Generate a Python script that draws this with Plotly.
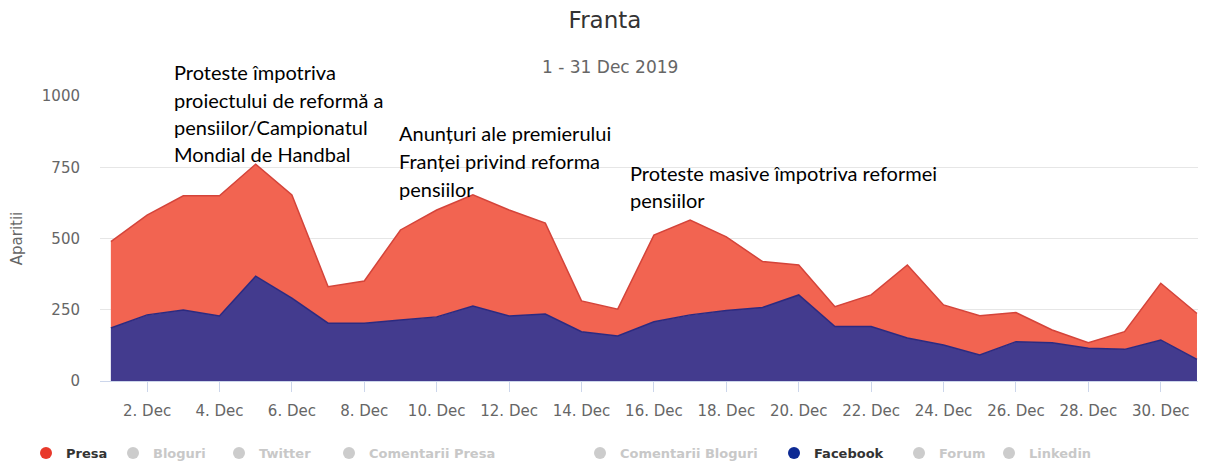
import plotly.graph_objects as go
import pandas as pd

# daily mentions, Franta, December 2019
days = pd.date_range("2019-12-01", "2019-12-31", freq="D")
facebook = [186, 232, 249, 228, 368, 291, 203, 203, 214, 225, 263, 228, 235, 173, 158, 208,
            232, 247, 258, 302, 191, 191, 151, 126, 91, 138, 134, 115, 111, 144, 76]
presa = [303, 350, 401, 422, 393, 362, 128, 148, 316, 375, 390, 372, 319, 108, 94, 304,
         333, 259, 161, 105, 70, 111, 256, 141, 138, 102, 45, 19, 62, 199, 161]

legend_names = ["Presa", "Bloguri", "Twitter", "Comentarii Presa", "Comentarii Bloguri",
                "Facebook", "Forum", "Linkedin"]
legend_colors = {"Presa": "#E8392B", "Facebook": "#0D2A94"}
# x of each legend dot on the page
legend_dots = [45, 132, 238, 348, 599, 793, 918, 1008]

events = [
    (172, [("Proteste împotriva", 72), ("proiectului de reformă a", 99.5),
           ("pensiilor/Campionatul", 127), ("Mondial de Handbal", 154)]),
    (397, [("Anunțuri ale premierului", 133), ("Franței privind reforma", 161),
           ("pensiilor", 189)]),
    (628, [("Proteste masive împotriva reformei", 173), ("pensiilor", 200)]),
]

# page has an 8px body margin, so the figure is a bit smaller than the window
W, H = 1198, 457
L, R, T, B = 92, 6, 88, 84

def px_x(x):
    # page pixel -> paper x
    return (x - 8 - L) / (W - L - R)

def px_y(y):
    # page pixel -> paper y
    return (H - B - (y - 8)) / (H - T - B)

fig = go.Figure()

# stacked areas: facebook at the bottom, presa on top
fig.add_trace(go.Scatter(x=days, y=facebook, stackgroup="s", mode="lines",
                         line=dict(color="#2C2A80", width=1.5), fillcolor="#433B8E",
                         name="Facebook", legendgroup="Facebook", showlegend=False))
fig.add_trace(go.Scatter(x=days, y=presa, stackgroup="s", mode="lines",
                         line=dict(color="#D4443A", width=1.5), fillcolor="#F26451",
                         name="Presa", legendgroup="Presa", showlegend=False))

# one small legend per entry so each sits where the original puts it
legends = {}
for i, name in enumerate(legend_names):
    col = legend_colors.get(name)
    if col:
        label = "<b>" + name + "</b>"
    else:
        col = "#cccccc"
        label = "<span style='color:#c8c8c8'><b>" + name + "</b></span>"
    key = "legend" if i == 0 else "legend%d" % (i + 1)
    fig.add_trace(go.Scatter(x=[None], y=[None], mode="markers",
                             marker=dict(size=12, color=col), name=label,
                             legendgroup=name, legend=key))
    legends[key] = dict(orientation="h", x=px_x(legend_dots[i] - 19), xanchor="left",
                        y=px_y(453), yanchor="middle", bgcolor="rgba(0,0,0,0)",
                        font=dict(family="DejaVu Sans", size=13, color="#333333"),
                        itemclick=False, itemdoubleclick=False)

for x0, lines in events:
    for text, y0 in lines:
        fig.add_annotation(text=text, xref="paper", yref="paper", x=px_x(x0), y=px_y(y0),
                           xanchor="left", yanchor="middle", showarrow=False,
                           font=dict(family="Lato", size=20, color="#000000"))

fig.add_annotation(text="1 - 31 Dec 2019", xref="paper", yref="paper",
                   x=px_x(610), y=px_y(67), xanchor="center", yanchor="middle",
                   showarrow=False, font=dict(family="DejaVu Sans", size=17, color="#666666"))

fig.update_layout(
    width=W, height=H,
    margin=dict(l=L, r=R, t=T, b=B, autoexpand=False),
    paper_bgcolor="white", plot_bgcolor="white",
    font=dict(family="DejaVu Sans", color="#666666"),
    title=dict(text="Franta", x=(605 - 8) / W, xref="container", xanchor="center",
               y=1 - (20 - 8) / H, yanchor="middle",
               font=dict(family="DejaVu Sans", size=23, color="#333333")),
    hovermode="x unified",
    **legends,
)
fig.update_xaxes(
    type="date",
    range=["2019-11-30 16:48", "2019-12-31 02:00"],
    tick0="2019-12-02", dtick=2 * 86400000, tickformat="%-d. %b",
    ticks="outside", ticklen=10, tickcolor="#ccd6eb", ticklabelstandoff=6,
    showgrid=False, showline=True, linecolor="#ccd6eb", linewidth=1,
    tickfont=dict(size=15, color="#666666"), zeroline=False,
)
fig.update_yaxes(
    range=[0, 1000], tickvals=[0, 250, 500, 750, 1000],
    showgrid=True, gridcolor="#e6e6e6", zeroline=False,
    ticks="outside", ticklen=16, tickcolor="rgba(0,0,0,0)",
    tickfont=dict(size=15, color="#666666"),
    title=dict(text="Aparitii", standoff=16, font=dict(size=15, color="#666666")),
)

fig.write_html("out.html")
